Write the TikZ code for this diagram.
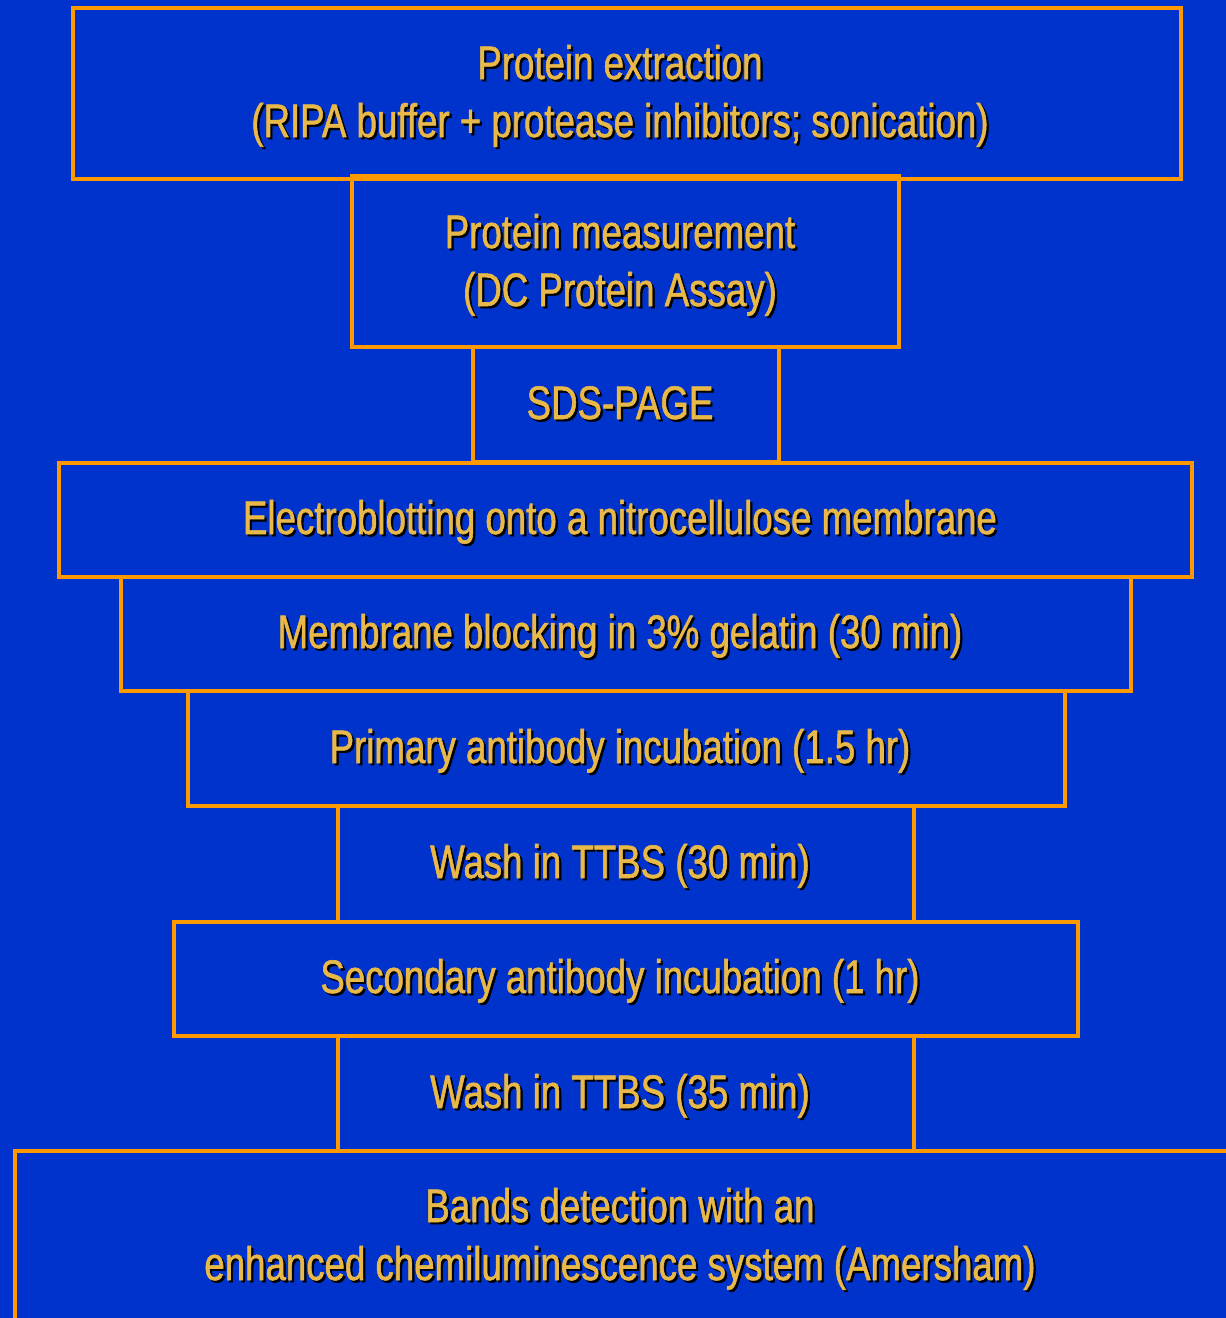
\documentclass[tikz,border=0pt]{standalone}
\usepackage{fontspec}
\setmainfont[FakeStretch=0.78, FakeBold=1.2]{Liberation Sans}
\definecolor{bgblue}{HTML}{0033CC}
\definecolor{boxorange}{HTML}{FF9900}
\definecolor{txtgold}{HTML}{E8B848}
\newcommand\shd[1]{\leavevmode\rlap{\kern2.2pt\raisebox{-2.2pt}[0pt][0pt]{\color{black}#1}}#1}
\tikzset{
  stepbox/.style={draw=boxorange, line width=3.6pt, rectangle, inner sep=0pt, outer sep=0pt},
  steptext/.style={text=txtgold, align=center, inner sep=0pt, anchor=base,
    font=\fontsize{47}{58}\selectfont}
}
\begin{document}
\begin{tikzpicture}[x=1pt,y=-1pt]
\useasboundingbox (0,0) rectangle (1226,1318);
\fill[bgblue] (0,0) rectangle (1226,1318);
% boxes
\node[stepbox, minimum width=1108pt, minimum height=171pt] (b1) at (627,93.5) {};
\node[stepbox, minimum width=547pt, minimum height=171pt] (b2) at (625.5,261.5) {};
\node[stepbox, minimum width=306pt, minimum height=115pt] (b3) at (626,404.5) {};
\node[stepbox, minimum width=1133pt, minimum height=114pt] (b4) at (625.5,520) {};
\node[stepbox, minimum width=1010pt, minimum height=114pt] (b5) at (626,634) {};
\node[stepbox, minimum width=877pt, minimum height=115pt] (b6) at (626.5,748.5) {};
\node[stepbox, minimum width=576pt, minimum height=116pt] (b7) at (626,864) {};
\node[stepbox, minimum width=904pt, minimum height=114pt] (b8) at (626,979) {};
\node[stepbox, minimum width=576pt, minimum height=115pt] (b9) at (626,1093.5) {};
\node[stepbox, minimum width=1240pt, minimum height=200pt] (b10) at (635,1251) {};
% texts (base anchor = baseline of the last line)
\node[steptext] (t1) at (620,137) {\shd{Protein extraction}\\\shd{(RIPA buffer + protease inhibitors; sonication)}};
\node[steptext] (t2) at (620,306) {\shd{Protein measurement}\\\shd{(DC Protein Assay)}};
\node[steptext] (t3) at (620,419) {\shd{SDS-PAGE}};
\node[steptext] (t4) at (620,534) {\shd{Electroblotting onto a nitrocellulose membrane}};
\node[steptext] (t5) at (620,648) {\shd{Membrane blocking in 3\% gelatin (30 min)}};
\node[steptext] (t6) at (620,763) {\shd{Primary antibody incubation (1.5 hr)}};
\node[steptext] (t7) at (620,878) {\shd{Wash in TTBS (30 min)}};
\node[steptext] (t8) at (620,993) {\shd{Secondary antibody incubation (1 hr)}};
\node[steptext] (t9) at (620,1108) {\shd{Wash in TTBS (35 min)}};
\node[steptext] (t10) at (620,1280) {\shd{Bands detection with an}\\\shd{enhanced chemiluminescence system (Amersham)}};
\end{tikzpicture}
\end{document}
